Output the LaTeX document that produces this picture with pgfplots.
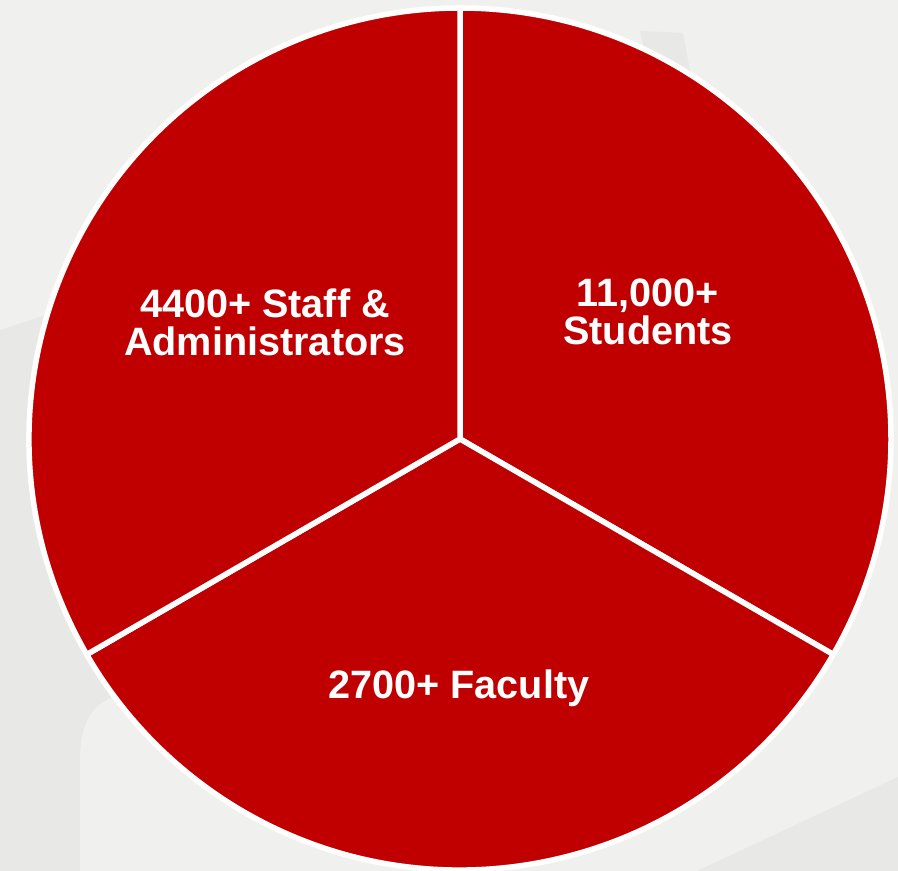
\documentclass[border=0pt]{standalone}
\usepackage{fontspec}
\setmainfont{Liberation Sans}
\usepackage{pgfplots}
\usepackage{pgfplotstable}
\pgfplotsset{compat=1.18}
\definecolor{pie}{HTML}{C00000}
\definecolor{bg}{HTML}{F0F0EF}
\definecolor{bgd}{HTML}{E8E8E7}
% slice data: share of the circle (equal thirds), label position
\pgfplotstableread{
name     share labx laby
Students 1     648  559
Faculty  1     459  183
Staff    1     265  549
}\piedata
\begin{document}
\begin{tikzpicture}
\begin{axis}[width=898bp, height=871bp, scale only axis,
  xmin=0, xmax=898, ymin=0, ymax=871, axis lines=none,
  xtick=\empty, ytick=\empty]
% background
\fill[bg] (axis cs:0,0) rectangle (axis cs:898,871);
\fill[bgd] (axis cs:0,0) -- (axis cs:0,541) -- (axis cs:120,580) -- (axis cs:120,0) -- cycle;
\fill[bg] (axis cs:80,0) -- (axis cs:80,110) .. controls (axis cs:80,160) and (axis cs:100,178) .. (axis cs:150,182) -- (axis cs:300,182) -- (axis cs:300,0) -- cycle;
\fill[bgd] (axis cs:697,0) -- (axis cs:898,94) -- (axis cs:898,0) -- cycle;
\fill[bgd] (axis cs:640,840) -- (axis cs:683,838) -- (axis cs:690,800) -- (axis cs:650,800) -- cycle;
% pie slices
\pgfplotstablegetelem{0}{share}\of\piedata \pgfmathsetmacro{\sa}{\pgfplotsretval}
\pgfplotstablegetelem{1}{share}\of\piedata \pgfmathsetmacro{\sb}{\pgfplotsretval}
\pgfplotstablegetelem{2}{share}\of\piedata \pgfmathsetmacro{\sc}{\pgfplotsretval}
\pgfmathsetmacro{\tot}{\sa+\sb+\sc}
\pgfmathsetmacro{\aA}{90}
\pgfmathsetmacro{\aB}{\aA-360*\sa/\tot}
\pgfmathsetmacro{\aC}{\aB-360*\sb/\tot}
\pgfmathsetmacro{\aD}{\aC-360*\sc/\tot}
\filldraw[fill=pie, draw=white, line width=5.5bp, line join=round]
  (axis cs:460,432) -- ++(\aA:431bp) arc[start angle=\aA, end angle=\aB, radius=431bp] -- cycle;
\filldraw[fill=pie, draw=white, line width=5.5bp, line join=round]
  (axis cs:460,432) -- ++(\aB:431bp) arc[start angle=\aB, end angle=\aC, radius=431bp] -- cycle;
\filldraw[fill=pie, draw=white, line width=5.5bp, line join=round]
  (axis cs:460,432) -- ++(\aC:431bp) arc[start angle=\aC, end angle=\aD, radius=431bp] -- cycle;
% labels
\node[white, font=\fontsize{39.6bp}{38bp}\selectfont\bfseries, align=center] at (axis cs:648,559) {11,000+\\Students};
\node[white, font=\fontsize{39.6bp}{38bp}\selectfont\bfseries, align=center] at (axis cs:459,183) {2700+ Faculty};
\node[white, font=\fontsize{39.6bp}{38bp}\selectfont\bfseries, align=center] at (axis cs:265,549) {4400+ Staff \&\\Administrators};
\end{axis}
\end{tikzpicture}
\end{document}
